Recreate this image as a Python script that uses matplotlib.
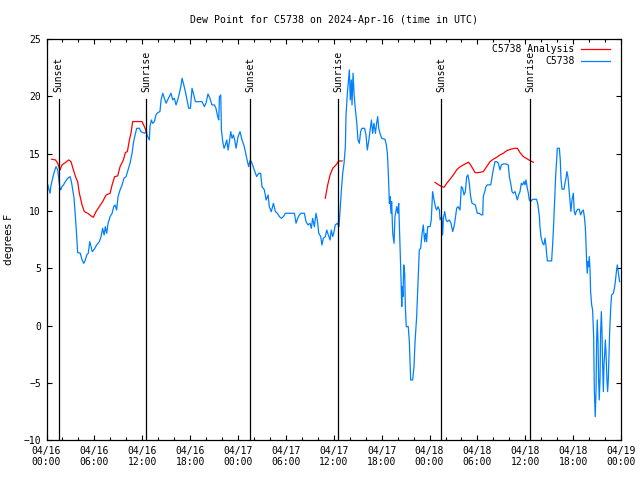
import numpy as np
import matplotlib
matplotlib.use('Agg')
import matplotlib.pyplot as plt
import matplotlib.dates as mdates

# hours since 2024-04-16 00:00 UTC, dew point in F
obs_hours = [
    0.15, 0.44, 0.56, 0.77, 0.98, 1.19, 1.40, 1.52, 1.70, 1.78, 1.94, 2.11, 2.36, 2.65, 2.95,
    3.11, 3.28, 3.45, 3.61, 3.78, 3.90, 4.24, 4.45, 4.66, 4.87, 5.03, 5.24, 5.41, 5.53, 5.74,
    5.99, 6.29, 6.62, 6.83, 7.04, 7.21, 7.37, 7.54, 7.71, 7.96, 8.21, 8.42, 8.58, 8.79, 8.96,
    9.21, 9.46, 9.71, 9.96, 10.21, 10.46, 10.71, 10.88, 11.05, 11.30, 11.63, 11.84, 12.05, 12.30,
    12.47, 12.68, 12.89, 12.97, 13.14, 13.30, 13.51, 13.72, 13.93, 14.22, 14.35, 14.56, 14.77,
    14.98, 15.19, 15.39, 15.60, 15.81, 16.02, 16.23, 16.44, 16.65, 16.86, 16.98, 17.15, 17.40,
    17.57, 17.82, 18.03, 18.24, 18.40, 18.65, 19.15, 19.49, 19.78, 19.99, 20.24, 20.49, 20.74,
    21.03, 21.24, 21.45, 21.58, 21.66, 21.83, 21.91, 22.08, 22.25, 22.41, 22.58, 22.75, 22.91,
    23.08, 23.25, 23.41, 23.58, 23.75, 24.00, 24.25, 24.50, 24.79,
    25.00, 25.13, 25.33, 25.54, 25.75, 26.04, 26.34, 26.59, 26.84, 27.00, 27.30, 27.51, 27.76,
    27.92, 28.17, 28.43, 28.68, 28.93, 29.18, 29.43, 29.68, 29.93, 30.43, 31.06, 31.27, 31.47,
    31.68, 31.89, 32.31, 32.52, 32.77, 33.02, 33.19, 33.35, 33.56, 33.77, 33.94, 34.11, 34.36,
    34.52, 34.69, 34.94, 35.11, 35.32, 35.53, 35.69, 35.86, 36.03, 36.19, 36.44, 36.65,
    36.78, 36.99, 37.11, 37.28, 37.45, 37.53, 37.70, 37.87, 37.95, 38.07, 38.20, 38.28, 38.41,
    38.53, 38.66, 38.87, 39.04, 39.20, 39.37, 39.54, 39.87, 40.04, 40.20, 40.37, 40.54, 40.71,
    40.87, 41.04, 41.21, 41.37, 41.50, 41.63, 41.79, 42.00, 42.42, 42.59, 42.71, 42.84, 42.96,
    43.05, 43.17, 43.25, 43.38, 43.55, 43.67, 43.88, 44.01, 44.13, 44.30, 44.42, 44.51, 44.59,
    44.67, 44.76, 44.88, 44.97, 45.09, 45.34, 45.47, 45.64, 45.89, 46.05, 46.18, 46.39, 46.56,
    46.72, 46.89, 47.06, 47.22, 47.39, 47.51, 47.64, 47.77, 48.06, 48.22, 48.39, 48.56, 48.73,
    48.89, 49.06, 49.23,
    49.31, 49.52, 49.64, 49.73, 49.90, 50.06, 50.23, 50.48, 50.69, 50.90, 51.06, 51.23, 51.40,
    51.57, 51.82, 51.98, 52.15, 52.32, 52.48, 52.65, 52.82, 52.99, 53.15, 53.32, 53.74, 53.99,
    54.24, 54.49, 54.66, 54.74, 54.91, 55.07, 55.24, 55.49, 55.66, 55.83, 55.99, 56.20, 56.41,
    56.62, 56.83, 57.00, 57.25, 57.58, 57.87, 58.00, 58.16, 58.33, 58.50, 58.71, 58.88, 59.00,
    59.17, 59.34, 59.50, 59.67, 59.84, 59.96, 60.09, 60.25, 60.38, 60.50, 60.67, 60.92, 61.42,
    61.59, 61.76,
    61.84, 61.97, 62.17, 62.34, 62.47, 62.59, 62.68, 62.76, 63.30, 63.43, 63.55, 63.68, 63.80,
    63.93, 64.01, 64.26, 64.39, 64.47, 64.60, 64.85, 64.97, 65.10, 65.22, 65.35, 65.47, 65.60,
    65.72, 65.85, 66.02, 66.14, 66.27, 66.39, 66.56, 66.77, 66.94, 67.10, 67.27, 67.40, 67.52,
    67.60, 67.69, 67.77, 67.86, 67.94, 68.02, 68.11, 68.19, 68.31, 68.44, 68.56, 68.65, 68.77,
    68.86, 68.94, 69.02, 69.11, 69.19, 69.27, 69.36, 69.44, 69.53, 69.61, 69.69, 69.78, 69.86,
    69.95, 70.03, 70.11, 70.24, 70.32, 70.40, 70.49, 70.57, 70.70, 70.82, 71.03, 71.16, 71.28,
    71.41, 71.53, 71.62, 71.74, 71.82,
]
obs_dewpt = [
    12.3, 11.55, 12.27, 12.86, 13.44, 13.87, 13.6, 12.9, 11.9, 11.84, 12.13, 12.27, 12.57, 12.86, 13.0,
    12.57, 11.84, 11.11, 9.51, 7.76, 6.37, 6.31, 5.73, 5.43, 5.73, 6.16, 6.31, 7.32, 7.03, 6.45,
    6.66, 7.03, 7.32, 7.76, 8.49, 7.9, 8.63, 8.05, 8.93, 9.51, 9.8, 10.38, 10.53, 10.09, 11.26,
    11.84, 12.27, 12.86, 13.0, 13.58, 14.17, 15.04, 15.91, 16.5, 17.22, 17.22, 16.93, 16.85, 16.79,
    16.93, 16.49, 16.2, 17.37, 17.95, 17.66, 17.8, 18.39, 18.59, 18.68, 19.7, 20.28, 19.84,
    19.41, 19.7, 19.99, 20.28, 19.7, 19.84, 19.26, 19.7, 20.28, 21.0, 21.59, 21.15, 20.42,
    19.84, 18.97, 18.97, 20.72, 20.28, 19.55, 19.55, 19.55, 19.12, 19.41, 20.22, 19.84, 19.26,
    19.26, 18.97, 18.24, 17.95, 19.99, 20.13, 17.08, 16.06, 15.48, 15.77, 16.2, 15.33, 16.06,
    16.93, 16.35, 16.64, 16.2, 15.48, 16.49, 16.93, 16.2, 15.62,
    14.9, 14.46, 13.87, 14.46, 14.17, 13.58, 13.0, 13.29, 13.29, 12.13, 11.84, 10.96, 11.4,
    10.38, 9.94, 10.67, 9.94, 9.8, 9.51, 9.36, 9.51, 9.8, 9.8, 9.8, 8.93, 9.36,
    9.65, 9.8, 9.8, 9.07, 8.78, 8.93, 8.49, 9.36, 8.63, 9.8, 9.22, 8.05, 7.76,
    7.03, 7.61, 7.76, 8.34, 7.9, 7.47, 8.34, 7.76, 8.2, 8.78, 8.93, 8.63,
    10.09, 12.13, 13.29, 14.17, 15.62, 18.39, 20.28, 21.59, 22.32, 19.7, 21.44, 19.26, 22.03,
    20.28, 19.12, 17.8, 16.2, 15.91, 16.93, 17.22, 17.22, 16.64, 15.33, 16.06, 16.93, 17.95,
    16.78, 17.66, 16.78, 17.66, 18.24, 17.22, 16.78, 16.35, 16.26, 15.77, 15.04, 13.29, 10.67,
    11.26, 9.8, 10.82, 8.05, 7.18, 9.51, 10.38, 9.8, 10.67, 6.89, 4.27, 1.65, 3.39,
    2.52, 5.29, 4.56, 1.65, -0.1, -0.1, -1.41, -4.76, -4.76, -3.59, -1.41, 0.77, 3.98,
    6.6, 6.74, 8.05, 8.78, 7.32, 8.05, 7.32, 8.63, 8.63, 9.22, 11.69, 10.96, 10.38,
    10.09, 10.38, 10.09,
    9.22, 9.51, 7.91, 9.37, 9.95, 9.22, 9.07, 9.22, 8.93, 8.2, 8.64, 9.37, 10.24,
    10.38, 10.09, 12.13, 11.99, 11.4, 11.69, 13.0, 13.15, 12.42, 11.26, 10.68, 10.53, 9.8,
    9.8, 9.66, 9.66, 11.26, 11.69, 12.13, 12.28, 12.28, 12.28, 13.0, 13.59, 14.31, 14.31,
    14.17, 13.59, 14.02, 14.11, 14.11, 14.02, 13.0, 12.42, 11.69, 11.55, 11.69, 11.26, 10.97,
    11.4, 11.69, 12.42, 12.28, 12.57, 12.28, 12.71, 11.99, 11.55, 10.97, 10.82, 11.02, 11.02,
    10.53, 9.51,
    8.64, 7.76, 7.18, 7.04, 7.62, 7.04, 6.16, 5.64, 5.64, 7.18, 8.78, 11.11, 13.0,
    14.61, 15.48, 15.48, 14.46, 12.86, 11.9, 11.9, 12.42, 12.86, 13.44, 12.95, 11.99, 10.97,
    9.95, 10.97, 11.55, 9.95, 9.66, 9.95, 10.15, 10.15, 9.66, 9.95, 10.09, 9.51, 8.64,
    7.33, 5.58, 4.56, 5.58, 5.14, 6.02, 4.85, 2.96, 1.8, 1.36, -0.97, -5.63, -7.96,
    -5.63, -1.55, 0.49, -1.55, -4.61, -6.5, -4.61, -0.68, 1.21, -0.68, -3.3, -5.77, -3.3,
    -2.43, -1.26, -2.43, -4.75, -5.77, -4.75, -2.86, -0.68, 1.5, 2.67, 2.81, 3.25, 3.83,
    4.71, 5.29, 4.85, 4.27, 3.83,
]

# analysis series, NaN marks gaps
ana_hours = [
    0.65, 1.11, 1.40, 1.69, 1.94, 2.36, 2.78, 3.07, 3.36, 3.70, 3.90, 4.11, 4.45, 4.74, 5.16,
    5.58, 5.87, 6.20, 6.62, 7.04, 7.46, 7.96, 8.21, 8.54, 8.92, 9.21, 9.63, 9.88, 10.13, 10.38,
    10.59, 10.80, 11.30, 11.97, 12.26, 12.55,
    20.0,
    34.94, 35.23, 35.53, 35.86, 36.28, 36.61, 37.03,
    43.0,
    48.68, 49.10, 49.52, 49.81, 50.15, 50.56, 50.98, 51.40, 51.73, 52.23, 52.86, 53.15, 53.40,
    53.70, 54.11, 54.74, 55.16, 55.58, 55.99, 56.41, 56.83, 57.25, 57.66, 58.16, 58.71, 59.00,
    59.34, 59.75, 60.17, 60.59, 61.00,
]
ana_dewpt = [
    14.52, 14.46, 14.17, 13.58, 14.02, 14.23, 14.46, 14.31, 13.58, 12.86, 12.57, 11.55, 10.53, 9.95, 9.8,
    9.57, 9.45, 9.95, 10.38, 10.82, 11.4, 11.55, 12.27, 13.0, 13.06, 13.87, 14.46, 15.1, 15.19, 16.2,
    16.79, 17.81, 17.81, 17.81, 17.37, 16.85,
    np.nan,
    11.11, 12.27, 13.14, 13.73, 14.02, 14.37, 14.37,
    np.nan,
    12.5, 12.3, 12.13, 12.07, 12.42, 12.77, 13.15, 13.59, 13.82, 14.02, 14.26, 14.02, 13.73,
    13.35, 13.35, 13.44, 13.88, 14.31, 14.52, 14.69, 14.9, 15.04, 15.27, 15.39, 15.48, 15.48,
    15.1, 14.75, 14.58, 14.4, 14.26,
]

sun_hours = [1.53, 12.51, 25.54, 36.57, 49.48, 60.63]
sun_labels = ['Sunset', 'Sunrise', 'Sunset', 'Sunrise', 'Sunset', 'Sunrise']

base = np.datetime64('2024-04-16T00:00')
def to_time(h):
    return base + (np.array(h) * 60).round().astype('timedelta64[m]')

mono = 'DejaVu Sans Mono'

fig = plt.figure(figsize=(6.4, 4.8), dpi=100)
ax = fig.add_axes([0.0727, 0.0833, 0.8977, 0.835])

ax.plot(to_time(ana_hours), ana_dewpt, color='#ff0000', lw=0.9, label='C5738 Analysis')
ax.plot(to_time(obs_hours), obs_dewpt, color='#0080ff', lw=0.9, label='C5738')

for h, lab in zip(sun_hours, sun_labels):
    t = to_time([h])[0]
    ax.axvline(t, ymin=0, ymax=0.85, color='black', lw=0.9)
    ax.text(t, 0.868, lab, transform=ax.get_xaxis_transform(), rotation=90,
            ha='center', va='bottom', family=mono, fontsize=7)

ax.set_xlim(to_time([0])[0], to_time([72])[0])
ax.set_ylim(-10, 25)
ax.set_yticks(range(-10, 26, 5))
ax.xaxis.set_major_locator(mdates.HourLocator(byhour=[0, 6, 12, 18]))
ax.xaxis.set_minor_locator(mdates.HourLocator(interval=2))
ax.xaxis.set_major_formatter(mdates.DateFormatter('%m/%d\n%H:%M'))

ax.tick_params(which='both', direction='in', top=True, right=True, width=0.8)
ax.tick_params(which='major', length=3.5, labelsize=7, pad=4)
ax.tick_params(which='minor', length=2)
for lbl in ax.get_xticklabels() + ax.get_yticklabels():
    lbl.set_family(mono)
for s in ax.spines.values():
    s.set_linewidth(0.9)

ax.set_ylabel('degrees F', fontsize=7.5)
ax.yaxis.set_label_coords(-0.057, 0.5)
ax.set_title('Dew Point for C5738 on 2024-Apr-16 (time in UTC)', family=mono, fontsize=7.1, pad=11.5)

leg = ax.legend(loc='upper right', bbox_to_anchor=(0.9803, 0.988), frameon=False, markerfirst=False,
                handlelength=2.95, handletextpad=0.7, borderaxespad=0, borderpad=0,
                labelspacing=0.25, prop={'family': mono, 'size': 7})

fig.savefig('out.png', dpi=100)
